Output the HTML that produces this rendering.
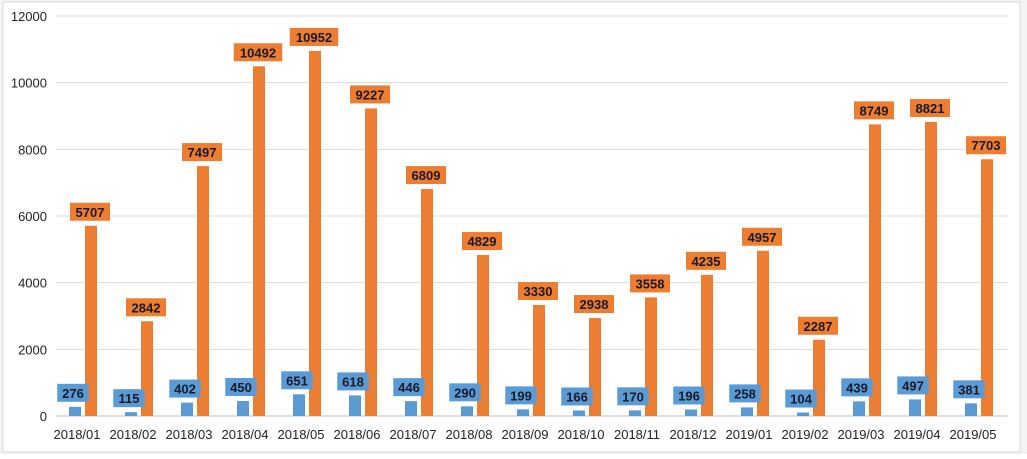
<!DOCTYPE html>
<html><head><meta charset="utf-8"><style>
body{margin:0;width:1027px;height:454px;overflow:hidden;background:#fff;font-family:"Liberation Sans","Noto Sans CJK SC",sans-serif;}
</style></head><body>
<svg id="chart" width="1027" height="454" xmlns="http://www.w3.org/2000/svg">
<rect x="0" y="0" width="1027" height="454" fill="#f3f3f3"/>
<rect x="3" y="2" width="1017" height="450" fill="#fff" stroke="#d9d9d9"/>
<g id="grid"></g><g id="bars"></g><g id="labels"></g>
</svg>
<script>
const categories=["2018/01","2018/02","2018/03","2018/04","2018/05","2018/06","2018/07","2018/08","2018/09","2018/10","2018/11","2018/12","2019/01","2019/02","2019/03","2019/04","2019/05"];
const blueValues=[276,115,402,450,651,618,446,290,199,166,170,196,258,104,439,497,381];
const orangeValues=[5707,2842,7497,10492,10952,9227,6809,4829,3330,2938,3558,4235,4957,2287,8749,8821,7703];
const yTicks=[0,2000,4000,6000,8000,10000,12000];
const NS="http://www.w3.org/2000/svg";
const L=56,R=1008,T=16,B=416,yMax=12000;
const y=v=>B-(v/yMax)*(B-T);
const bw=(R-L)/categories.length;
const xc=i=>L+bw*(i+0.5);
function mk(t,a,p){const e=document.createElementNS(NS,t);for(const k in a)e.setAttribute(k,a[k]);p.appendChild(e);return e;}
const grid=document.getElementById('grid'),bars=document.getElementById('bars'),labels=document.getElementById('labels');
yTicks.forEach(v=>{
  const l=mk('line',{x1:L,x2:R,y1:y(v),y2:y(v),stroke:v===0?'#bfbfbf':'#d9d9d9','stroke-width':1},grid);
  
  
  const t=mk('text',{x:47,y:y(v)+5,'text-anchor':'end','font-size':13,fill:'#222'},grid);
  t.textContent=v;
  
  
});
categories.forEach((c,i)=>{
  const t=mk('text',{x:xc(i)-7,y:439,'text-anchor':'middle','font-size':13,fill:'#222'},labels);
  t.textContent=c;
  
  
  [[blueValues[i],'#5b9bd5',-9],[orangeValues[i],'#ed7d31',7]].forEach(([v,col,off])=>{
    const cx=xc(i)+off;
    const b=mk('rect',{x:cx-6,y:y(v),width:12,height:B-y(v),fill:col},bars);
    
    
    const s=String(v),w=s.length*8.5+6,lx=col==='#5b9bd5'?cx-2:cx-1;
    const top=y(v)-5-18;
    const r=mk('rect',{x:lx-w/2,y:top,width:w,height:18,fill:col},labels);
    
    
    const tt=mk('text',{x:lx,y:top+14,'text-anchor':'middle','font-size':13,'font-weight':'bold',fill:'#1a1a2a'},labels);
    tt.textContent=s;
    
    
  });
});
</script>
</body></html>
